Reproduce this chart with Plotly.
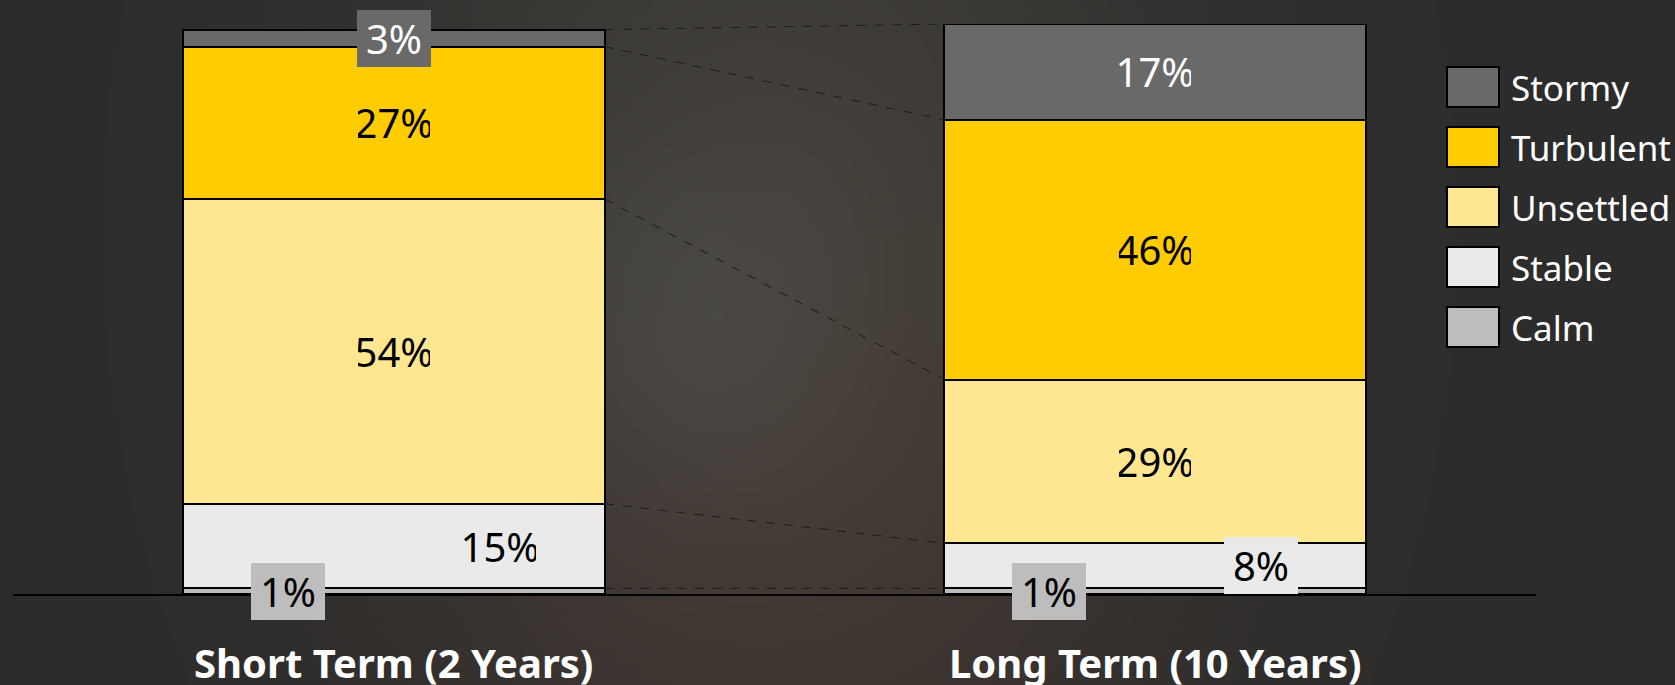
import base64
import struct
import zlib

import numpy as np
import plotly.graph_objects as go

# ---------------- data ----------------
categories = ["Short Term (2 Years)", "Long Term (10 Years)"]
series_names = ["Calm", "Stable", "Unsettled", "Turbulent", "Stormy"]  # bottom -> top
calm = [1, 1]
stable = [15, 8]
unsettled = [54, 29]
turbulent = [27, 46]
stormy = [3, 17]
series_values = [calm, stable, unsettled, turbulent, stormy]

# ---------------- style ----------------
colors = {"Calm": "#BDBDBD", "Stable": "#EAEAEA", "Unsettled": "#FFE690",
          "Turbulent": "#FFCC00", "Stormy": "#696969"}
text_colors = {"Calm": "black", "Stable": "black", "Unsettled": "black",
               "Turbulent": "black", "Stormy": "white"}
label_xshift = {"Calm": -106, "Stable": 106, "Unsettled": 0, "Turbulent": 0, "Stormy": 0}
FONT = "Noto Sans"
FS_LABEL = 40
FS_LEGEND = 35
FS_CAT = 40
W_FIG, H_FIG = 1675, 685
M_L, M_R, M_T, M_B = 13, 139, 24, 91
PW, PH = W_FIG - M_L - M_R, H_FIG - M_T - M_B
BAR_W = 0.554


def px_x(px):
    return (px - M_L) / PW


def px_y(py):
    return (H_FIG - M_B - py) / PH


# ---------------- background image (soft warm glow) ----------------
def make_bg():
    w, h = 335, 137
    xs = (np.arange(w) + 0.5) * 5
    ys = (np.arange(h) + 0.5) * 5
    X, Y = np.meshgrid(xs, ys)
    base = np.array([44, 44, 44.0])
    t = np.clip(Y / H_FIG, 0, 1)[..., None]
    warm = np.array([72, 68, 61.0]) * (1 - t) + np.array([70, 57, 50.0]) * t
    wgt = np.exp(-0.5 * (((X - 780) / 280) ** 2 + ((Y - 360) / 400) ** 2))[..., None]
    img = base * (1 - wgt) + warm * wgt
    g = np.exp(-0.5 * (((X - 690) / 120) ** 2 + ((Y - 330) / 140) ** 2))[..., None]
    img = img + np.array([4, 9, 13.0]) * g
    img = np.clip(img, 0, 255).astype(np.uint8)
    raw = b"".join(b"\x00" + img[i].tobytes() for i in range(h))

    def chunk(tp, d):
        return struct.pack(">I", len(d)) + tp + d + struct.pack(">I", zlib.crc32(tp + d) & 0xFFFFFFFF)

    png = (b"\x89PNG\r\n\x1a\n"
           + chunk(b"IHDR", struct.pack(">IIBBBBB", w, h, 8, 2, 0, 0, 0))
           + chunk(b"IDAT", zlib.compress(raw, 9))
           + chunk(b"IEND", b""))
    return "data:image/png;base64," + base64.b64encode(png).decode()


fig = go.Figure()
for name, vals in zip(series_names, series_values):
    fig.add_trace(go.Bar(
        x=categories, y=vals, name=name, width=BAR_W,
        marker=dict(color=colors[name], line=dict(color="black", width=2)),
        showlegend=False, hoverinfo="skip",
    ))

# cumulative levels
cum = np.cumsum(np.array(series_values), axis=0)  # shape (5, 2)
bases = cum - np.array(series_values)

annotations = []
shapes = []
# data labels
for si, name in enumerate(series_names):
    for ci, cat in enumerate(categories):
        v = series_values[si][ci]
        annotations.append(dict(
            x=ci, y=bases[si][ci] + v / 2, xref="x", yref="y",
            text=f"{v}%", showarrow=False, xshift=label_xshift[name],
            font=dict(family=FONT, size=FS_LABEL, color=text_colors[name]),
            bgcolor=colors[name], width=72, height=55, borderpad=1, borderwidth=0,
            align="center", valign="middle",
        ))

# series connector lines (left bar right edge -> right bar left edge)
for si in range(len(series_names)):
    shapes.append(dict(
        type="line", xref="x", yref="y",
        x0=0 + BAR_W / 2, x1=1 - BAR_W / 2,
        y0=cum[si][0], y1=cum[si][1],
        line=dict(color="#1a1a1a", width=1, dash="dash"), layer="above",
    ))

# custom legend (top -> bottom: Stormy ... Calm)
for k, name in enumerate(reversed(series_names)):
    cy = 87 + 60 * k
    shapes.append(dict(
        type="rect", xref="paper", yref="paper",
        x0=px_x(1447), x1=px_x(1499), y0=px_y(cy + 20), y1=px_y(cy - 20),
        fillcolor=colors[name], line=dict(color="black", width=2),
    ))
    annotations.append(dict(
        x=px_x(1509), y=px_y(cy), xref="paper", yref="paper",
        text=name, showarrow=False, xanchor="left", yanchor="middle",
        font=dict(family=FONT, size=FS_LEGEND, color="white"),
    ))

fig.update_layout(
    width=W_FIG, height=H_FIG,
    margin=dict(l=M_L, r=M_R, t=M_T, b=M_B, pad=0, autoexpand=False),
    barmode="stack",
    paper_bgcolor="#2c2c2c", plot_bgcolor="rgba(0,0,0,0)",
    showlegend=False,
    annotations=annotations, shapes=shapes,
    images=[dict(
        source=make_bg(), xref="paper", yref="paper",
        x=-M_L / PW, y=1 + M_T / PH, sizex=W_FIG / PW, sizey=H_FIG / PH,
        xanchor="left", yanchor="top", sizing="stretch", layer="below",
    )],
    xaxis=dict(
        type="category", range=[-0.5, 1.5], showline=True, linecolor="black", linewidth=2,
        ticks="", showgrid=False, zeroline=False, automargin=False,
        tickfont=dict(family=FONT, size=FS_CAT, color="white", weight="bold"),
        ticklabelstandoff=34,
    ),
    yaxis=dict(range=[0, 101], visible=False, showgrid=False, zeroline=False, automargin=False),
)

fig.write_html(
    "out.html",
    config={"displayModeBar": False},
    post_script="document.body.style.margin='0';document.body.style.overflow='hidden';",
)
